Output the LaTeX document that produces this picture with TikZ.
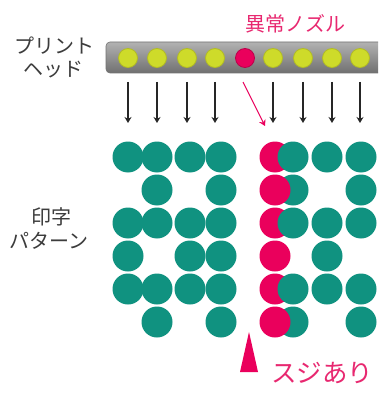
\documentclass[tikz,border=0pt]{standalone}
\usepackage{fontspec}
\newfontfamily\jp{Noto Sans CJK JP}
\usetikzlibrary{arrows.meta}
\definecolor{teal1}{RGB}{16,146,128}
\definecolor{pink1}{RGB}{234,0,92}
\definecolor{pinktxt}{RGB}{232,40,112}
\definecolor{yel}{RGB}{206,219,42}
\definecolor{yeldraw}{RGB}{178,188,36}
\definecolor{txtgray}{RGB}{60,60,60}
\tikzset{
  lbl/.style={font=\jp\fontsize{20}{24}\selectfont, text=txtgray, inner sep=0pt},
  redlbl/.style={font=\jp\fontsize{20}{24}\selectfont, text=pinktxt, inner sep=0pt},
  nozzle/.style={circle, fill=yel, draw=yeldraw, line width=0.8pt, minimum size=19pt, inner sep=0pt},
  badnozzle/.style={circle, fill=pink1, draw=pink1!80!black, line width=0.8pt, minimum size=19pt, inner sep=0pt},
  ink/.style={circle, fill=teal1, minimum size=31pt, inner sep=0pt},
  badink/.style={circle, fill=pink1, minimum size=31pt, inner sep=0pt},
  jet/.style={draw=black!85, line width=1.1pt, -{Stealth[length=6pt,width=7pt]}},
  badjet/.style={draw=pink1, line width=1.1pt, -{Stealth[length=6pt,width=7pt]}}
}
\begin{document}
\begin{tikzpicture}[x=1pt,y=-1pt]
\clip (0,0) rectangle (378,393);
\fill[white] (0,0) rectangle (378,393);
% labels
\node[lbl] (l1) at (54,46) {プリント};
\node[lbl] (l2) at (53,70) {ヘッド};
\node[lbl] (l3) at (51,217) {印字};
\node[lbl] (l4) at (49,241) {パターン};
\node[redlbl] (bad) at (295,24) {異常ノズル};
% head bar
\draw[rounded corners=4pt, draw={rgb,255:red,115;green,115;blue,115}, line width=0.6pt,
  top color={rgb,255:red,178;green,178;blue,178}, middle color={rgb,255:red,140;green,140;blue,140},
  bottom color={rgb,255:red,112;green,112;blue,112}] (106,42) rectangle (395,73);
% nozzles
\foreach \i/\x in {1/128,2/157,3/187,4/215,6/273,7/303,8/332,9/360}{
  \node[nozzle] (n\i) at (\x,58) {};
}
\node[badnozzle] (n5) at (245,58) {};
% jets
\foreach \i/\x in {1/128,2/157,3/187,4/215,6/273,7/303,8/332,9/360}{
  \coordinate (s\i) at (\x,82);
  \coordinate (e\i) at (\x,123);
  \draw[jet] (s\i) -- (e\i);
}
\coordinate (s5) at (243,82);
\coordinate (e5) at (265,126);
\draw[badjet] (s5) -- (e5);
% left print block
\foreach \r/\y/\pat in {1/157/{1,1,1,1},2/190/{0,1,0,1},3/223/{1,1,1,1},4/256/{1,0,1,1},5/289/{1,1,1,1},6/322/{0,1,0,1}}{
  \foreach \c/\x [count=\k] in {1/128,2/157,3/190,4/221}{
    \pgfmathtruncatemacro\v{{\pat}[\k-1]}
    \ifnum\v=1 \node[ink] (a\r\c) at (\x,\y) {}; \fi
  }
}
% right print block
% rows where teal is on top of red
\foreach \r/\y in {1/157,3/223,5/289}{
  \node[badink] (p\r) at (275,\y) {};
  \node[ink] (b\r1) at (293,\y) {};
  \node[ink] (b\r2) at (327,\y) {};
  \node[ink] (b\r3) at (361,\y) {};
}
\foreach \r/\y in {2/190,6/322}{
  \node[ink] (b\r1) at (293,\y) {};
  \node[ink] (b\r3) at (361,\y) {};
  \node[badink] (p\r) at (275,\y) {};
}
\node[badink] (p4) at (275,256) {};
\node[ink] (b42) at (327,256) {};
% streak marker
\fill[pink1] (249,332) -- (240,372) -- (258,372) -- cycle;
\node[font=\jp\fontsize{25.5}{30}\selectfont, text=pinktxt, inner sep=0pt, anchor=west] (suji) at (271,373) {スジあり};
\end{tikzpicture}
\end{document}
